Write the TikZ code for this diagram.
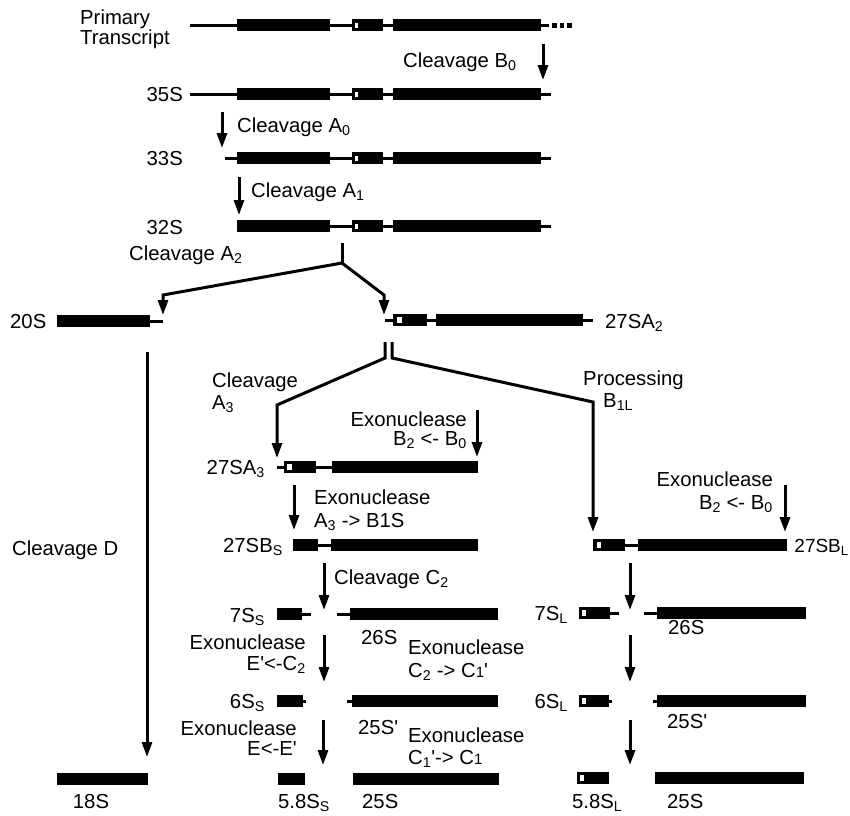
\documentclass[tikz,border=0pt]{standalone}
\usepackage{fontspec}
\setmainfont{Liberation Sans}
\usetikzlibrary{arrows.meta}
\newcommand{\genebar}[3]{\fill (#1,#3-6) rectangle (#2,#3+6);}
\newcommand{\geneline}[3]{\draw[line width=3] (#1,#3) -- (#2,#3);}
\newcommand{\genemark}[3]{\fill[white] (#1,#3-2.5) rectangle (#2,#3+2.5);}
\newcommand{\fullrow}[1]{%
  \genebar{237}{330}{#1}\geneline{330}{352}{#1}%
  \genebar{352}{383}{#1}\genemark{354.5}{357.5}{#1}%
  \geneline{383}{393}{#1}\genebar{393}{541}{#1}}
\begin{document}
\begin{tikzpicture}[x=1pt,y=-1pt,
  lbl/.style={inner sep=0pt, font=\fontsize{20.3}{22}\selectfont},
  lw/.style={lbl, anchor=base west},
  le/.style={lbl, anchor=base east},
  arr/.style={line width=3, -{Triangle[length=15pt,width=10pt]}},
  branch/.style={line width=3, line join=miter},
  ]
\useasboundingbox (0,0) rectangle (850,815);

% ---------- precursor rows ----------
\geneline{190}{237}{25}\fullrow{25}\geneline{541}{549}{25}
\foreach \dx in {552,559.5,567}{\fill (\dx,23) rectangle (\dx+4.5,27.5);}
\geneline{190}{237}{94}\fullrow{94}\geneline{541}{551}{94}
\geneline{225}{237}{158}\fullrow{158}\geneline{541}{551}{158}
\fullrow{226}\geneline{541}{551}{226}

% 20S
\genebar{57}{150}{321}\geneline{150}{163}{321}
% 27SA2
\geneline{385}{393}{320}\genebar{393}{427}{320}\fill[white](397,317)rectangle(402,323);
\geneline{427}{436}{320}\genebar{436}{583}{320}\geneline{583}{593}{320}
% 27SA3
\geneline{277}{284}{467}\genebar{284}{316}{467}\fill[white](287,464)rectangle(292,470);
\geneline{316}{332}{467}\genebar{332}{478}{467}
% 27SBS
\genebar{293}{318}{545}\geneline{318}{331}{545}\genebar{331}{478}{545}
% 27SBL
\genebar{593}{625}{545}\fill[white](597,542)rectangle(601,548);
\geneline{625}{638}{545}\genebar{638}{787}{545}
% 7S rows
\genebar{277}{302}{614}\geneline{302}{311}{614}
\geneline{337}{350}{614}\genebar{350}{498}{614}
\genebar{579}{610}{613}\fill[white](582,610)rectangle(586,616);
\geneline{610}{619}{613}
\geneline{644}{657}{613}\genebar{657}{806}{613}
% 6S rows
\genebar{277}{303}{701}\geneline{303}{306}{701}
\geneline{347}{352}{701}\genebar{352}{498}{701}
\genebar{579}{609}{701}\fill[white](582,698)rectangle(586,704);
\geneline{609}{612}{701}
\geneline{653}{657}{701}\genebar{657}{806}{701}
% mature rows
\genebar{57}{148}{779}
\genebar{278}{305}{779}
\genebar{353}{499}{779}
\genebar{577}{609}{778}\fill[white](580,775)rectangle(584,781);
\genebar{655}{804}{778}

% ---------- arrows ----------
\coordinate (b0s) at (543,44);  \coordinate (b0e) at (543,80);
\coordinate (a0s) at (222,112); \coordinate (a0e) at (222,148);
\coordinate (a1s) at (239,177); \coordinate (a1e) at (239,215);
\coordinate (a2s) at (342,243); \coordinate (a2j) at (342,263);
\coordinate (a2l) at (163,295); \coordinate (a2le) at (163,315);
\coordinate (a2r) at (384,295); \coordinate (a2re) at (384,315);
\coordinate (dls) at (385,342); \coordinate (dlj) at (385,358);
\coordinate (dlc) at (277,405); \coordinate (dle) at (277,458);
\coordinate (drs) at (392,342); \coordinate (drj) at (392,358);
\coordinate (drc) at (593,402); \coordinate (dre) at (593,532);
\coordinate (ds) at (147,352);  \coordinate (de) at (147,757);
\coordinate (xls) at (477,410); \coordinate (xle) at (477,457);
\coordinate (a3s) at (294,485); \coordinate (a3e) at (294,530);
\coordinate (xrs) at (785,485); \coordinate (xre) at (785,532);
\coordinate (c2s) at (324,563); \coordinate (c2e) at (324,610);
\coordinate (c2rs) at (630,563); \coordinate (c2re) at (630,610);
\coordinate (e1s) at (324,635); \coordinate (e1e) at (324,682);
\coordinate (e1rs) at (630,635); \coordinate (e1re) at (630,682);
\coordinate (e2s) at (323,720); \coordinate (e2e) at (323,765);
\coordinate (e2rs) at (630,720); \coordinate (e2re) at (630,765);

\draw[arr] (b0s) -- (b0e);
\draw[arr] (a0s) -- (a0e);
\draw[arr] (a1s) -- (a1e);
\draw[branch] (a2s) -- (a2j);
\draw[branch,arr] (a2j) -- (a2l) -- (a2le);
\draw[branch,arr] (a2j) -- (a2r) -- (a2re);
\draw[branch,arr] (dls) -- (dlj) -- (dlc) -- (dle);
\draw[branch,arr] (drs) -- (drj) -- (drc) -- (dre);
\draw[arr] (ds) -- (de);
\draw[arr] (xls) -- (xle);
\draw[arr] (a3s) -- (a3e);
\draw[arr] (xrs) -- (xre);
\draw[arr] (c2s) -- (c2e);
\draw[arr] (c2rs) -- (c2re);
\draw[arr] (e1s) -- (e1e);
\draw[arr] (e1rs) -- (e1re);
\draw[arr] (e2s) -- (e2e);
\draw[arr] (e2rs) -- (e2re);

% ---------- labels ----------
\node[lw] (pt1) at (80,24) {Primary};
\node[lw] (pt2) at (80,44) {Transcript};
\node[le] (l35) at (183,101) {35S};
\node[le] (l33) at (183,165) {33S};
\node[le] (l32) at (183,234) {32S};
\node[lw] (cb0) at (403,67) {Cleavage B\textsubscript{0}};
\node[lw] (ca0) at (237,132) {Cleavage A\textsubscript{0}};
\node[lw] (ca1) at (251,197) {Cleavage A\textsubscript{1}};
\node[lw] (ca2) at (129,260) {Cleavage A\textsubscript{2}};
\node[lw] (l20) at (10,328) {20S};
\node[lw] (l27a2) at (605,328) {27SA\textsubscript{2}};
\node[lw] (ca3a) at (212,387) {Cleavage};
\node[lw] (ca3b) at (212,409) {A\textsubscript{3}};
\node[lw] (pb1) at (583,385) {Processing};
\node[lw] (pb2) at (603,407) {B\textsubscript{1L}};
\node[le] (xl1) at (467,426) {Exonuclease};
\node[le] (xl2) at (467,445) {B\textsubscript{2} <- B\textsubscript{0}};
\node[le] (l27a3) at (265,474) {27SA\textsubscript{3}};
\node[lw] (xa1) at (314,504) {Exonuclease};
\node[lw] (xa2) at (314,527) {A\textsubscript{3} -> B1S};
\node[le] (xr1) at (773,486) {Exonuclease};
\node[le] (xr2) at (773,509) {B\textsubscript{2} <- B\textsubscript{0}};
\node[le] (l27bs) at (283,552) {27SB\textsubscript{S}};
\node[le,font=\fontsize{19}{21}\selectfont] (l27bl) at (849,552) {27SB\textsubscript{L}};
\node[lw] (cc2) at (334,584) {Cleavage C\textsubscript{2}};
\node[lw] (cd) at (12,555) {Cleavage D};
\node[le] (l7s) at (265,622) {7S\textsubscript{S}};
\node[le] (l7l) at (568,620) {7S\textsubscript{L}};
\node[lw] (l26a) at (361,644) {26S};
\node[lw] (l26b) at (668,634) {26S};
\node[le] (xe1) at (306,649) {Exonuclease};
\node[le] (xe2) at (306,670) {E\textquotesingle<-C\textsubscript{2}};
\node[lw] (xc1) at (408,654) {Exonuclease};
\node[lw] (xc2) at (408,677) {C\textsubscript{2} -> C{\fontsize{15}{15}\selectfont 1}\textquotesingle};
\node[le] (l6s) at (265,708) {6S\textsubscript{S}};
\node[le] (l6l) at (568,708) {6S\textsubscript{L}};
\node[lw] (l25pa) at (358,734) {25S\textquotesingle};
\node[lw] (l25pb) at (667,728) {25S\textquotesingle};
\node[le] (xf1) at (297,735) {Exonuclease};
\node[le] (xf2) at (297,755) {E<-E\textquotesingle};
\node[lw] (xg1) at (408,742) {Exonuclease};
\node[lw] (xg2) at (408,764) {C\textsubscript{1}\textquotesingle-> C{\fontsize{15}{15}\selectfont 1}};
\node[lbl,anchor=base] (l18) at (91,808) {18S};
\node[lw] (l58s) at (278,808) {5.8S\textsubscript{S}};
\node[lw] (l25a) at (362,808) {25S};
\node[lw] (l58l) at (572,808) {5.8S\textsubscript{L}};
\node[lw] (l25b) at (667,808) {25S};
\end{tikzpicture}
\end{document}
